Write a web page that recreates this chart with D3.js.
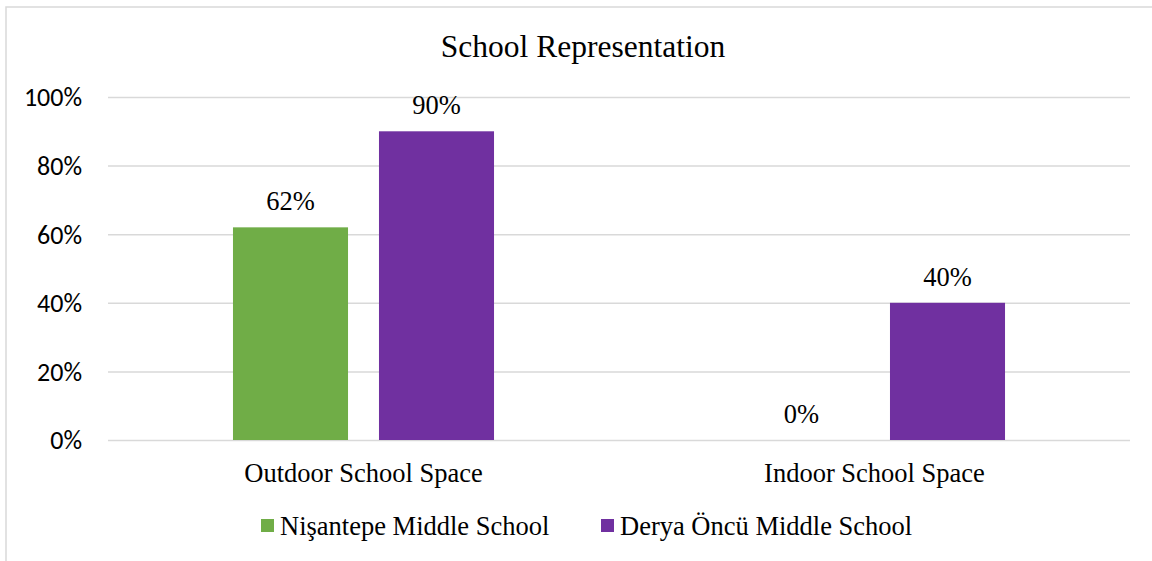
<!DOCTYPE html>
<html><head><meta charset="utf-8">
<script src="https://cdn.jsdelivr.net/npm/d3@7"></script>
<style>body{margin:0;background:#fff}svg{display:block}</style>
</head><body>
<svg id="c" width="1152" height="561"></svg>
<script>
const categories = ["Outdoor School Space", "Indoor School Space"];
const seriesNames = ["Nişantepe Middle School", "Derya Öncü Middle School"];
const nisantepe = [62, 0];
const deryaOncu = [90, 40];
const yTicks = [0, 20, 40, 60, 80, 100];
const colors = ["#70ad47", "#7030a0"];
const title = "School Representation";

(function(){
const svg = d3.select("#c");
const serif = "'Liberation Serif','Times New Roman',serif";
const sans = "Carlito,'Open Sans','Liberation Sans',sans-serif";

svg.append("rect").attr("x",6).attr("y",7).attr("width",1160).attr("height",570)
  .attr("fill","#fff").attr("stroke","#d9d9d9").attr("stroke-width",1.5);

const pL=108, pR=1130, pT=97, pB=440;
const x0 = d3.scaleBand().domain(categories).range([pL,pR]).paddingInner(0).paddingOuter(0);
const x1 = d3.scaleBand().domain([0,1]).range([0,x0.bandwidth()]).paddingInner(0.212).paddingOuter(0.856);
const y = d3.scaleLinear().domain([0,100]).range([pB,pT]);

const yAxis = d3.axisLeft(y).tickValues(yTicks).tickSize(-(pR-pL)).tickFormat(d=>d+"%").tickPadding(26);
const gy = svg.append("g").attr("transform",`translate(${pL},0)`).call(yAxis);
gy.select(".domain").remove();
gy.selectAll(".tick line").attr("stroke","#d9d9d9").attr("stroke-width",1.5);
gy.selectAll(".tick text").attr("font-family",sans).attr("font-size",26).attr("fill","#000").attr("dy","0.34em");

const data = [nisantepe, deryaOncu];
categories.forEach((c,ci)=>{
  data.forEach((s,si)=>{
    const v=s[ci];
    const bx = x0(c)+x1(si);
    if(v>0) svg.append("rect").attr("x",bx).attr("y",y(v)).attr("width",x1.bandwidth()).attr("height",y(0)-y(v)).attr("fill",colors[si]);
    svg.append("text").attr("x",bx+x1.bandwidth()/2).attr("y",y(v)-17).attr("text-anchor","middle")
      .attr("font-family",serif).attr("font-size",26.5).text(v+"%");
  });
  svg.append("text").attr("x",x0(c)+x0.bandwidth()/2).attr("y",482).attr("text-anchor","middle")
    .attr("font-family",serif).attr("font-size",26.5).text(c);
});

svg.append("text").attr("x",583).attr("y",57).attr("text-anchor","middle")
  .attr("font-family",serif).attr("font-size",31.5).text(title);

const legX=[261,601];
seriesNames.forEach((n,i)=>{
  svg.append("rect").attr("x",legX[i]).attr("y",519).attr("width",13).attr("height",13).attr("fill",colors[i]);
  svg.append("text").attr("x",legX[i]+19).attr("y",535).attr("font-family",serif).attr("font-size",26.5).text(n);
});
})();
</script>
</body></html>
